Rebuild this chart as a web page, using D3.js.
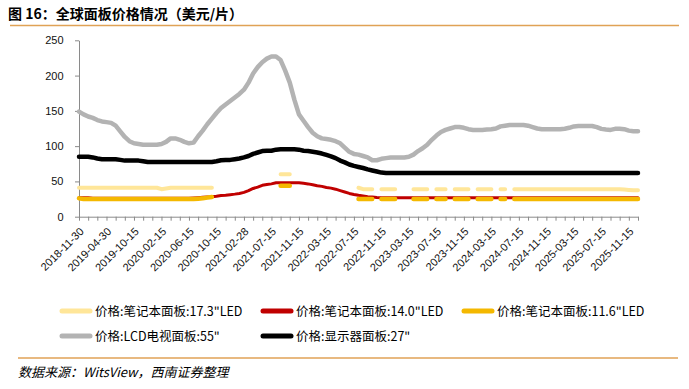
<!DOCTYPE html>
<html>
<head>
<meta charset="utf-8">
<script src="https://d3js.org/d3.v7.min.js"></script>
<style>
  body { margin: 0; background: #fff; }
  .axis text { font-family: "Liberation Sans", Arial, sans-serif; fill: #111; }
  .axis path, .axis line { stroke: #8a8a8a; }
  .cjk { font-family: "Noto Sans CJK SC", "Noto Sans", sans-serif; }
</style>
</head>
<body>
<div id="chart-area"></div>
<script>
  // x labels shown every 6th category, tick marks every 2nd
  var tickLabels = ['2018-11-30', '2019-04-30', '2019-10-15', '2020-02-15', '2020-06-15', '2020-10-15',
                    '2021-02-28', '2021-07-15', '2021-11-15', '2022-03-15', '2022-07-15', '2022-11-15',
                    '2023-03-15', '2023-07-15', '2023-11-15', '2024-03-15', '2024-07-15', '2024-11-15',
                    '2025-03-15', '2025-07-15', '2025-11-15'];
  var labelEvery = 6, tickEvery = 2;
  var yTicks = [0, 50, 100, 150, 200, 250];

  var _ = null;
  // 笔记本面板 17.3"
  var nb173 = [41, 41, 41, 41, 41, 41, 41, 41, 41, 41,
               41, 41, 41, 41, 41, 41, 41, 41, 39, 40,
               41, 41, 41, 41, 41, 41, 41, 41, 41, 41,
               _, _, _, _, _, _, _, _, _, _,
               _, _, _, _, 60, 60, 60, _, _, _,
               _, _, _, _, _, _, _, _, _, _,
               _, 41, 39, 39, 39, _, 39, 39, 39, 39,
               _, _, _, 39, 39, 39, 39, _, 39, 39,
               39, _, 39, 39, 39, 39, _, 39, 39, 39,
               39, _, 39, 39, _, 39, 39, 39, 39, 39,
               39, 39, 39, 39, 39, 39, 39, 39, 39, 39,
               39, 39, 39, 39, 39, 39, 39, 39, 39, 38.5,
               38, 37.5, 37.5];
  // 笔记本面板 14.0"
  var nb140 = [27, 27, 27, 26, 26, 26, 26, 26, 26, 26,
               26, 26, 26, 26, 26, 26, 26, 26, 26, 26,
               26, 26, 26, 26, 26, 26.5, 27, 27.5, 28, 28.3,
               29, 30, 30.5, 31.2, 32, 33, 34.5, 37, 40, 42,
               44.5, 45.5, 46.5, 48, 48.2, 48.2, 48.2, 48.2, 48, 47.3,
               46.5, 45.2, 44, 43, 41.5, 40.5, 39, 37, 35, 33,
               31.5, 30.3, 29.3, 28.3, 27.8, 27.2, 27, 27, 27, 27,
               27, 27, 27, 27, 27, 27, 27, 27, 27, 27,
               27, 27, 27, 27, 27, 27, 27, 27, 27, 27,
               27, 27, 27, 27, 27, 27, 27, 27, 27, 27,
               27, 27, 27, 27, 27, 27, 27, 27, 27, 27,
               27, 27, 27, 27, 27, 27, 27, 27, 27, 27,
               27, 27, 27];
  // 笔记本面板 11.6"
  var nb116 = [26, 25, 25, 25, 25, 25, 25, 25, 25, 25,
               25, 25, 25, 25, 25, 25, 25, 25, 25, 25,
               25, 25, 25, 25, 25, 25, 25.5, 26, 27, 28,
               _, _, _, _, _, _, _, _, _, _,
               _, _, _, _, 44, 44, 44, _, _, _,
               _, _, _, _, _, _, _, _, _, _,
               _, 25, 25, 25, 25, _, 25, 25, 25, 25,
               _, _, _, 25, 25, 25, 25, _, 25, 25,
               25, _, 25, 25, 25, 25, _, 25, 25, 25,
               25, _, 25, 25, _, 25, 25, 25, 25, 25,
               25, 25, 25, 25, 25, 25, 25, 25, 25, 25,
               25, 25, 25, 25, 25, 25, 25, 25, 25, 25,
               25, 25, 25];
  // LCD电视面板 55"
  var tv55 = [149, 145, 142, 140, 137, 135, 134, 133, 129, 121,
              113, 107, 104, 103, 102, 102, 102, 102, 103, 106,
              111, 111, 109, 106, 104, 105, 114, 122, 131, 139,
              147, 154, 159, 164, 169, 174, 180, 190, 203, 212,
              219, 224, 227, 227, 222, 207, 190, 166, 145, 136,
              127, 119, 114, 111, 110, 109, 107, 104, 98, 92,
              89, 88, 86, 84, 80, 80, 82, 83, 84, 84,
              84, 84, 85, 88, 93, 97, 102, 109, 115, 120,
              123, 125, 127, 127, 126, 124, 123, 123, 123, 123.5,
              124, 125, 128, 129, 130, 130, 130, 130, 129, 127,
              125, 124, 124, 124, 124, 124, 124.7, 126, 128, 128.5,
              128.5, 128.5, 128.5, 127, 124.5, 123.5, 123, 124.5, 124.5, 124,
              122, 121, 121];
  // 显示器面板 27"
  var mon27 = [85, 85, 85, 84, 82.5, 81.5, 81.5, 81.5, 81.5, 80.5,
               79.5, 79.5, 79.5, 79.5, 78.5, 77.5, 77.5, 77.5, 77.5, 77.5,
               77.5, 77.5, 77.5, 77.5, 77.5, 77.5, 77.5, 77.5, 77.5, 77.5,
               78.5, 80, 80.5, 80.5, 81.5, 82.5, 84, 86, 89, 91,
               93, 93.5, 93.5, 95, 95.5, 95.5, 95.5, 95.5, 95, 93.5,
               93, 92, 91, 89.5, 87.5, 85.5, 83, 79.5, 77, 74,
               72, 70.5, 69, 67, 65.5, 64, 62.5, 62, 62, 62,
               62, 62, 62, 62, 62, 62, 62, 62, 62, 62,
               62, 62, 62, 62, 62, 62, 62, 62, 62, 62,
               62, 62, 62, 62, 62, 62, 62, 62, 62, 62,
               62, 62, 62, 62, 62, 62, 62, 62, 62, 62,
               62, 62, 62, 62, 62, 62, 62, 62, 62, 62,
               62, 62, 62];

  var seriesNames = ['价格:笔记本面板:17.3"LED', '价格:笔记本面板:14.0"LED', '价格:笔记本面板:11.6"LED',
                     '价格:LCD电视面板:55"', '价格:显示器面板:27"'];
  var seriesValues = [nb173, nb140, nb116, tv55, mon27];
  var seriesColors = ['#ffe699', '#c00000', '#f4b800', '#b3b3b3', '#000000'];
  var seriesWidths = [4, 3, 4.5, 4.5, 4.5];

  function create_chart() {
    var margin = {left: 79, top: 40.3, right: 51, bottom: 172.3};
    var width = 689 - margin.left - margin.right,
        height = 389 - margin.top - margin.bottom;
    var n = nb140.length;

    var svg = d3.select('#chart-area')
                .append('svg')
                .attr('width', 689)
                .attr('height', 389);

    // Title and rules
    svg.append('text')
       .attr('class', 'cjk')
       .attr('x', 8)
       .attr('y', 19)
       .attr('font-size', '14px')
       .attr('font-weight', 'bold')
       .text('图 16：全球面板价格情况（美元/片）');
    svg.append('line')
       .attr('x1', 10).attr('x2', 679)
       .attr('y1', 25.5).attr('y2', 25.5)
       .attr('stroke', '#e0a256')
       .attr('stroke-width', 1.5);
    svg.append('line')
       .attr('x1', 18).attr('x2', 678)
       .attr('y1', 358).attr('y2', 358)
       .attr('stroke', '#e0a256')
       .attr('stroke-width', 1.5);
    svg.append('text')
       .attr('class', 'cjk')
       .attr('x', 18)
       .attr('y', 377)
       .attr('font-size', '13px')
       .attr('font-style', 'italic')
       .text('数据来源：WitsView，西南证券整理');

    var g = svg.append('g')
               .attr('transform', 'translate(' + margin.left + ',' + margin.top + ')');

    // Scales
    var x = d3.scaleLinear().domain([0, n - 1]).range([0, width]);
    var y = d3.scaleLinear().domain([0, 250]).range([height, 0]);

    // Axes
    var xAxisCall = d3.axisBottom(x)
                      .tickValues(d3.range(0, n, tickEvery))
                      .tickSize(4)
                      .tickSizeOuter(0)
                      .tickFormat(function (i) {
                        return i % labelEvery === 0 ? (tickLabels[i / labelEvery] || '') : '';
                      });
    var yAxisCall = d3.axisLeft(y)
                      .tickValues(yTicks)
                      .tickSize(4)
                      .tickSizeOuter(0)
                      .tickPadding(11.5);

    var xg = g.append('g')
              .attr('class', 'x axis')
              .attr('transform', 'translate(0,' + height + ')')
              .call(xAxisCall);
    xg.selectAll('text')
      .attr('x', 0).attr('y', 0).attr('dy', 0)
      .attr('font-size', '11px')
      .attr('text-anchor', 'end')
      .attr('transform', 'translate(5,15.5) rotate(-45)');

    var yg = g.append('g')
              .attr('class', 'y axis')
              .call(yAxisCall);
    yg.selectAll('text').attr('font-size', '11px');

    // Lines
    var line = d3.line()
                 .defined(function (d) { return d != null; })
                 .x(function (d, i) { return x(i); })
                 .y(function (d) { return y(d); });

    seriesValues.forEach(function (vals, k) {
      g.append('path')
       .attr('fill', 'none')
       .attr('stroke', seriesColors[k])
       .attr('stroke-width', seriesWidths[k])
       .attr('stroke-linejoin', 'round')
       .attr('stroke-linecap', 'round')
       .attr('d', line(vals));
    });

    // Legend
    var legendPos = [[60, 311], [261, 311], [462, 311], [60, 336], [261, 336]];
    seriesNames.forEach(function (name, k) {
      var row = svg.append('g')
                   .attr('transform', 'translate(' + legendPos[k][0] + ',' + legendPos[k][1] + ')');
      row.append('line')
         .attr('x1', 2).attr('x2', 30)
         .attr('stroke', seriesColors[k])
         .attr('stroke-width', 5)
         .attr('stroke-linecap', 'round');
      row.append('text')
         .attr('class', 'cjk')
         .attr('x', 35)
         .attr('dy', '0.36em')
         .attr('font-size', '12.5px')
         .text(name);
    });
  }

  create_chart();
</script>
</body>
</html>
